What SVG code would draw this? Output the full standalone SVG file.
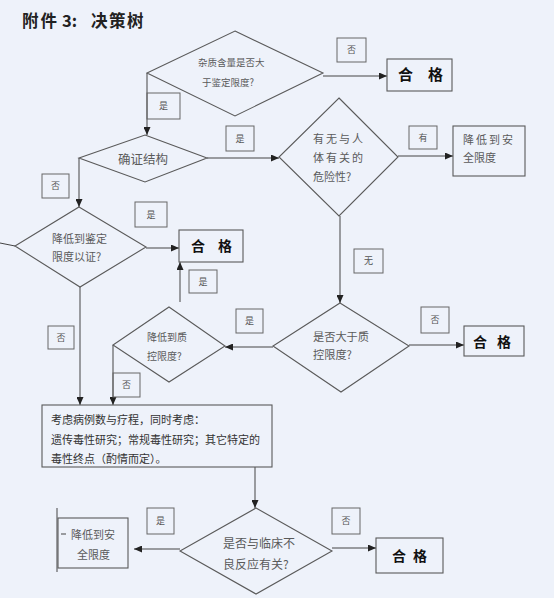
<svg xmlns="http://www.w3.org/2000/svg" width="554" height="598" viewBox="0 0 554 598">
<style>
.bg{fill:#eef2fa}
.sh{fill:none;stroke:#5a5a5a;stroke-width:1.1}
.lb{fill:none;stroke:#666;stroke-width:1}
.ln{fill:none;stroke:#444;stroke-width:1}
.t{font-family:"Noto Sans CJK SC","Noto Sans",sans-serif;fill:#5a5a5a}
.l{font-family:"Noto Sans CJK SC",sans-serif;fill:#555;font-size:9px;text-anchor:middle}
.ok{font-family:"Noto Sans CJK SC",sans-serif;fill:#111;font-weight:bold}
.m{font-family:"Noto Sans CJK SC",sans-serif;fill:#333;font-size:11px}
.ti{font-family:"Noto Sans CJK SC",sans-serif;font-size:16.5px;font-weight:bold;fill:#222}
</style>
<defs>
<marker id="ah" markerUnits="userSpaceOnUse" markerWidth="8" markerHeight="7" refX="8" refY="3.5" orient="auto">
<path d="M0,0 L8,3.5 L0,7 z" fill="#222"/>
</marker>
</defs>
<rect class="bg" x="0" y="0" width="554" height="598"/>
<g id="title">
<text class="ti" x="22" y="27" letter-spacing="2">附件</text>
<text class="ti" x="62" y="27">3:</text>
<text class="ti" x="91" y="27" letter-spacing="1.5">决策树</text>
</g>

<g id="connectors">
<path class="ln" d="M323,76 L387,76" marker-end="url(#ah)"/>
<path class="ln" d="M147,73 L147,135" marker-end="url(#ah)"/>
<path class="ln" d="M207,158 L279,158" marker-end="url(#ah)"/>
<path class="ln" d="M398,156 L453,156" marker-end="url(#ah)"/>
<path class="ln" d="M340,216 L340,303" marker-end="url(#ah)"/>
<path class="ln" d="M79,158 L79,207" marker-end="url(#ah)"/>
<path class="ln" d="M146,248 L179,248" marker-end="url(#ah)"/>
<path class="ln" d="M180,302 L180,262" marker-end="url(#ah)"/>
<path class="ln" d="M80,287 L80,405" marker-end="url(#ah)"/>
<path class="ln" d="M273,347 L225,347" marker-end="url(#ah)"/>
<path class="ln" d="M113,345 L113,405" marker-end="url(#ah)"/>
<path class="ln" d="M409,345 L464,345" marker-end="url(#ah)"/>
<path class="ln" d="M255,467 L255,508" marker-end="url(#ah)"/>
<path class="ln" d="M180,549 L134,549" marker-end="url(#ah)"/>
<path class="ln" d="M332,548 L376,548" marker-end="url(#ah)"/>
<path class="ln" d="M0,243 L15,246"/>
</g>

<g id="labels">
<rect class="lb" x="337" y="38" width="29" height="24"/><text class="l" x="351.5" y="53">否</text>
<rect class="lb" x="147" y="93" width="33" height="26"/><text class="l" x="163.5" y="109">是</text>
<rect class="lb" x="226" y="126" width="28" height="25"/><text class="l" x="240" y="141.5">是</text>
<rect class="lb" x="409" y="126" width="28" height="23"/><text class="l" x="423" y="141">有</text>
<rect class="lb" x="42" y="174" width="27" height="24"/><text class="l" x="55.5" y="189">否</text>
<rect class="lb" x="135" y="202" width="32" height="25"/><text class="l" x="151" y="217.5">是</text>
<rect class="lb" x="189" y="270" width="28" height="23"/><text class="l" x="203" y="285">是</text>
<rect class="lb" x="354" y="249" width="29" height="24"/><text class="l" x="368.5" y="264">无</text>
<rect class="lb" x="48" y="326" width="26" height="23"/><text class="l" x="61" y="341">否</text>
<rect class="lb" x="236" y="309" width="27" height="24"/><text class="l" x="249.5" y="324">是</text>
<rect class="lb" x="113" y="373" width="27" height="24"/><text class="l" x="126.5" y="388">否</text>
<rect class="lb" x="421" y="307" width="28" height="26"/><text class="l" x="435" y="323">否</text>
<rect class="lb" x="147" y="508" width="27" height="26"/><text class="l" x="160.5" y="524">是</text>
<rect class="lb" x="332" y="508" width="28" height="26"/><text class="l" x="346" y="524">否</text>
</g>

<g id="d1">
<polygon class="sh" points="235,31 323,73 235,116 147,73"/>
<text class="t" font-size="9.5" x="198" y="65.5">杂质含量是否大</text>
<text class="t" font-size="9.5" x="202" y="85.5">于鉴定限度?</text>
</g>
<g id="ok1">
<rect class="sh" x="387" y="59" width="65" height="32"/>
<text class="ok" font-size="15" x="398" y="80" letter-spacing="15">合格</text>
</g>
<g id="d2">
<polygon class="sh" points="145,135 207,158 145,182 79,158"/>
<text class="t" font-size="12.5" x="118" y="163.5">确证结构</text>
</g>
<g id="d3">
<polygon class="sh" points="339,98 398,157 339,216 279,157"/>
<text class="t" font-size="11" letter-spacing="2" x="313" y="143">有无与人</text>
<text class="t" font-size="11" letter-spacing="2" x="313" y="162">体有关的</text>
<text class="t" font-size="11" x="313" y="181">危险性?</text>
</g>
<g id="safe1">
<rect class="sh" x="453" y="126" width="72" height="50"/>
<text class="t" font-size="11" letter-spacing="2" x="463" y="144">降低到安</text>
<text class="t" font-size="11" x="463" y="162">全限度</text>
</g>
<g id="d4">
<polygon class="sh" points="79,207 146,247 80,287 15,246"/>
<text class="t" font-size="11" x="52" y="243">降低到鉴定</text>
<text class="t" font-size="11" x="52" y="261">限度以证?</text>
</g>
<g id="ok2">
<rect class="sh" x="179" y="230" width="64" height="32"/>
<text class="ok" font-size="14" x="191" y="251" letter-spacing="13">合格</text>
</g>
<g id="d5">
<polygon class="sh" points="340,303 409,346 341,392 273,346"/>
<text class="t" font-size="11.2" x="313" y="341">是否大于质</text>
<text class="t" font-size="11.2" x="313" y="359">控限度?</text>
</g>
<g id="ok3">
<rect class="sh" x="464" y="326" width="60" height="30"/>
<text class="ok" font-size="14" x="473" y="347" letter-spacing="10">合格</text>
</g>
<g id="d6">
<polygon class="sh" points="169,307 225,346 169,382 113,345"/>
<text class="t" font-size="10" x="147" y="341">降低到质</text>
<text class="t" font-size="10" x="147" y="360">控限度?</text>
</g>
<g id="consider">
<rect class="sh" x="42" y="405" width="230" height="62"/>
<text class="m" x="51" y="424">考虑病例数与疗程，同时考虑：</text>
<text class="m" x="51" y="444">遗传毒性研究；常规毒性研究；其它特定的</text>
<text class="m" x="51" y="463">毒性终点（酌情而定）。</text>
</g>
<g id="d7">
<polygon class="sh" points="256,508 332,551 256,594 180,551"/>
<text class="t" font-size="12" x="223" y="548">是否与临床不</text>
<text class="t" font-size="12" x="223" y="569">良反应有关?</text>
</g>
<g id="safe2">
<path class="ln" d="M57,508 L57,572 M61,534 L66,534"/>
<rect class="sh" x="58" y="518" width="70" height="50"/>
<text class="t" font-size="11" x="71" y="539">降低到安</text>
<text class="t" font-size="11" x="77" y="559">全限度</text>
</g>
<g id="ok4">
<rect class="sh" x="376" y="538" width="67" height="35"/>
<text class="ok" font-size="14" x="392" y="561" letter-spacing="7">合格</text>
</g>
</svg>
